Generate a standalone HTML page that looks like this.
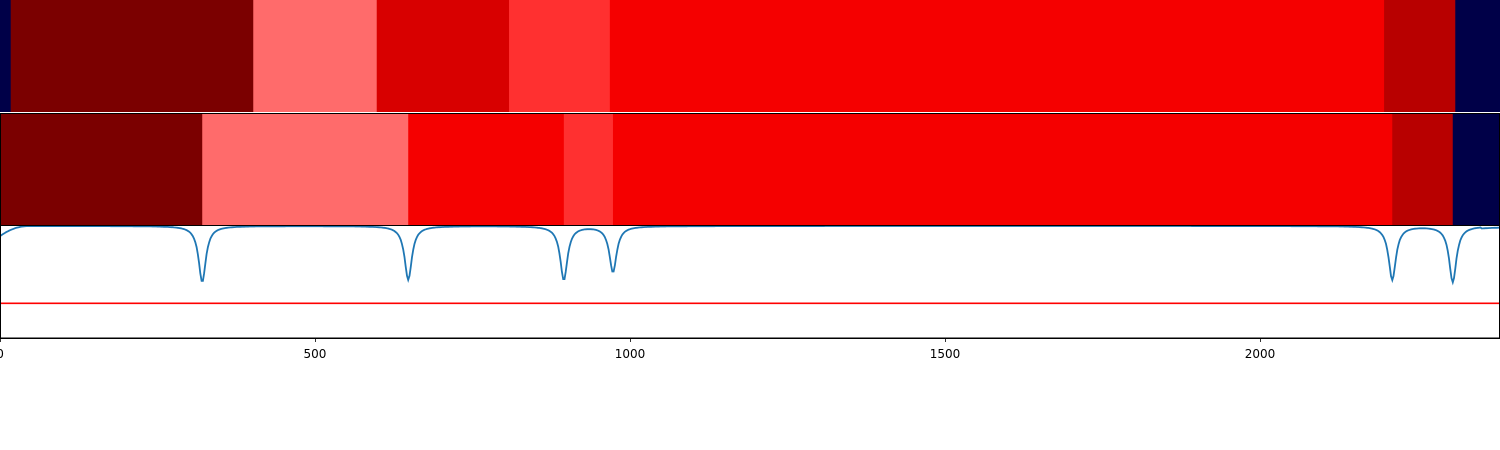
<!DOCTYPE html>
<html><head><meta charset="utf-8"><style>
html,body{margin:0;padding:0;background:#fff;width:1500px;height:450px;overflow:hidden}
svg text{font-family:"DejaVu Sans","Liberation Sans",sans-serif;font-size:12px;fill:#000}
</style></head><body>
<svg id="chart" width="1500" height="450"></svg>
<script>
const xMax = 2381;
// Top strip: segment boundaries (x units) and colors
const topEdges = [0, 17, 402, 598, 808, 968, 2197, 2310, 2381];
const topColors = ["#000048","#7b0000","#ff6b6b","#d80000","#ff3030","#f50000","#b80000","#000048"];
// Middle strip
const midEdges = [0, 321, 648, 895, 973, 2210, 2306, 2381];
const midColors = ["#7b0000","#ff6b6b","#f50000","#ff3030","#f50000","#b80000","#000048"];
// Line dips: centers and minimum values (0..1 scale)
const dipCenters = [321, 648, 895, 973, 2210, 2306];
const dipMins = [0.5, 0.52, 0.52, 0.59, 0.52, 0.5];
const threshold = 0.31;
const xTicks = [0, 500, 1000, 1500, 2000];

const NS = "http://www.w3.org/2000/svg";
const svg = document.getElementById("chart");
const X = v => v / xMax * 1500;
const P3top = 226, P3bot = 338;
const Y = v => P3bot - v * (P3bot - P3top);
function mk(tag, attrs){const e=document.createElementNS(NS,tag);for(const k in attrs)e.setAttribute(k,attrs[k]);svg.appendChild(e);return e;}

function strip(edges, colors, y0, y1, name){
  for(let i=0;i<colors.length;i++){
    const r = mk("rect",{x:X(edges[i]),y:y0,width:X(edges[i+1])-X(edges[i])+0.5,height:y1-y0,fill:colors[i]});
    
    
  }
}
strip(topEdges, topColors, 0, 112, "top-strip");
strip(midEdges, midColors, 113.5, 225, "middle-strip");
const f1 = mk("rect",{x:0.5,y:113.5,width:1499,height:112,fill:"none",stroke:"#000","stroke-width":1});



// line
let pts=[];
for(let x=0;x<=xMax;x+=2){
  let v=1;
  for(let i=0;i<dipCenters.length;i++){
    const d=(x-dipCenters[i])/7;
    v -= (1-dipMins[i]) / (1 + d*d);
  }
  if(x<45) v -= 0.09*Math.pow(1-x/45,2);
  if(x>xMax-30) v -= 0.01;
  pts.push(X(x).toFixed(1)+","+Y(v).toFixed(1));
}
const ln = mk("polyline",{points:pts.join(" "),fill:"none",stroke:"#1f77b4","stroke-width":1.8});


const th = mk("line",{x1:0,x2:1500,y1:Y(threshold),y2:Y(threshold),stroke:"#ff0000","stroke-width":1.6});


const f2 = mk("rect",{x:0.5,y:225.5,width:1499,height:112.5,fill:"none",stroke:"#000","stroke-width":1});


const ax = mk("line",{x1:0,x2:1500,y1:338.5,y2:338.5,stroke:"#000","stroke-width":1});


xTicks.forEach(t=>{
  const tk = mk("line",{x1:X(t)+0.5,x2:X(t)+0.5,y1:338,y2:342,stroke:"#000","stroke-width":0.8});
  
  
  const tx = mk("text",{x:X(t),y:358,"text-anchor":"middle"});
  tx.textContent=t;
  
  
});
</script>
</body></html>
